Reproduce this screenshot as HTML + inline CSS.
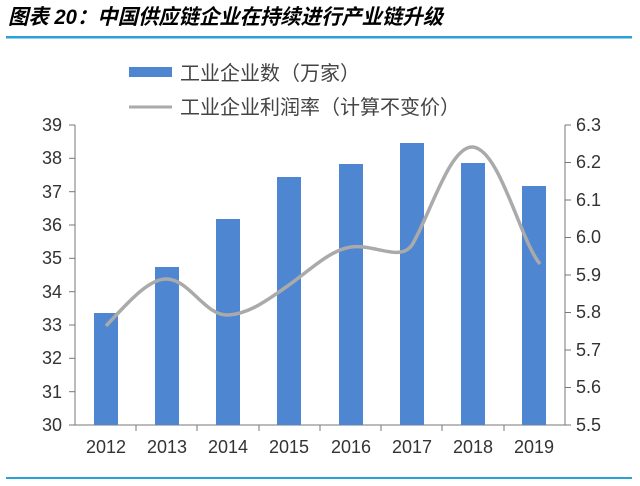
<!DOCTYPE html><html><head><meta charset="utf-8"><style>body{margin:0;background:#fff}svg{display:block}</style></head><body>
<svg width="640" height="486" xmlns="http://www.w3.org/2000/svg" font-family="Liberation Sans, Noto Sans CJK SC, sans-serif">
<text x="8" y="24" font-size="21" font-weight="bold" font-style="italic" fill="#000" textLength="435" lengthAdjust="spacingAndGlyphs">图表 20：中国供应链企业在持续进行产业链升级</text>
<rect x="6" y="36" width="626" height="2.5" fill="#2aa0d8"/>
<rect x="6" y="477" width="626" height="2" fill="#2aa0d8"/>
<rect x="129" y="67" width="43" height="10" fill="#4f86d1"/>
<text x="180" y="80" font-size="20" fill="#444">工业企业数（万家）</text>
<line x1="129" y1="107" x2="172" y2="107" stroke="#aaa" stroke-width="3"/>
<text x="180" y="114" font-size="20" fill="#444">工业企业利润率（计算不变价）</text>
<g stroke="#777" stroke-width="1">
<line x1="75" y1="125" x2="75" y2="425"/><line x1="565" y1="125" x2="565" y2="425"/>
<line x1="75" y1="425" x2="565" y2="425"/>
</g>
<g stroke="#777">
<line x1="69" y1="125" x2="75" y2="125"/><line x1="69" y1="158.3" x2="75" y2="158.3"/><line x1="69" y1="191.7" x2="75" y2="191.7"/><line x1="69" y1="225" x2="75" y2="225"/><line x1="69" y1="258.3" x2="75" y2="258.3"/><line x1="69" y1="291.7" x2="75" y2="291.7"/><line x1="69" y1="325" x2="75" y2="325"/><line x1="69" y1="358.3" x2="75" y2="358.3"/><line x1="69" y1="391.7" x2="75" y2="391.7"/><line x1="69" y1="425" x2="75" y2="425"/>
<line x1="565" y1="125" x2="571" y2="125"/><line x1="565" y1="162.5" x2="571" y2="162.5"/><line x1="565" y1="200" x2="571" y2="200"/><line x1="565" y1="237.5" x2="571" y2="237.5"/><line x1="565" y1="275" x2="571" y2="275"/><line x1="565" y1="312.5" x2="571" y2="312.5"/><line x1="565" y1="350" x2="571" y2="350"/><line x1="565" y1="387.5" x2="571" y2="387.5"/><line x1="565" y1="425" x2="571" y2="425"/>
<line x1="136" y1="425" x2="136" y2="431"/><line x1="197" y1="425" x2="197" y2="431"/><line x1="259" y1="425" x2="259" y2="431"/><line x1="320" y1="425" x2="320" y2="431"/><line x1="381" y1="425" x2="381" y2="431"/><line x1="442" y1="425" x2="442" y2="431"/><line x1="504" y1="425" x2="504" y2="431"/>
</g>
<g font-size="18" fill="#333" text-anchor="end">
<text x="62" y="131">39</text><text x="62" y="164">38</text><text x="62" y="198">37</text><text x="62" y="231">36</text><text x="62" y="264">35</text><text x="62" y="298">34</text><text x="62" y="331">33</text><text x="62" y="364">32</text><text x="62" y="398">31</text><text x="62" y="431">30</text>
</g>
<g font-size="18" fill="#333">
<text x="576" y="131">6.3</text><text x="576" y="168">6.2</text><text x="576" y="206">6.1</text><text x="576" y="243">6.0</text><text x="576" y="281">5.9</text><text x="576" y="318">5.8</text><text x="576" y="356">5.7</text><text x="576" y="393">5.6</text><text x="576" y="431">5.5</text>
</g>
<g font-size="18" fill="#333" text-anchor="middle">
<text x="106" y="453">2012</text><text x="167" y="453">2013</text><text x="228" y="453">2014</text><text x="289" y="453">2015</text><text x="351" y="453">2016</text><text x="412" y="453">2017</text><text x="473" y="453">2018</text><text x="534" y="453">2019</text>
</g>
<g fill="#4f86d1">
<rect x="94" y="313" width="24" height="112"/>
<rect x="155" y="267" width="24" height="158"/>
<rect x="216" y="219" width="24" height="206"/>
<rect x="277" y="177" width="24" height="248"/>
<rect x="339" y="164" width="24" height="261"/>
<rect x="400" y="143" width="24" height="282"/>
<rect x="461" y="163" width="24" height="262"/>
<rect x="522" y="186" width="24" height="239"/>
</g>
<path d="M106,326 C130,300 150,278 167,279 C190,280 205,316 228,315 C250,314 270,298 289,285 C310,270 330,250 351,247 C375,244 400,262 412,245 C430,215 450,145 473,147 C500,150 520,240 540,264" fill="none" stroke="#aaa" stroke-width="3.5"/>
</svg>
</body></html>
